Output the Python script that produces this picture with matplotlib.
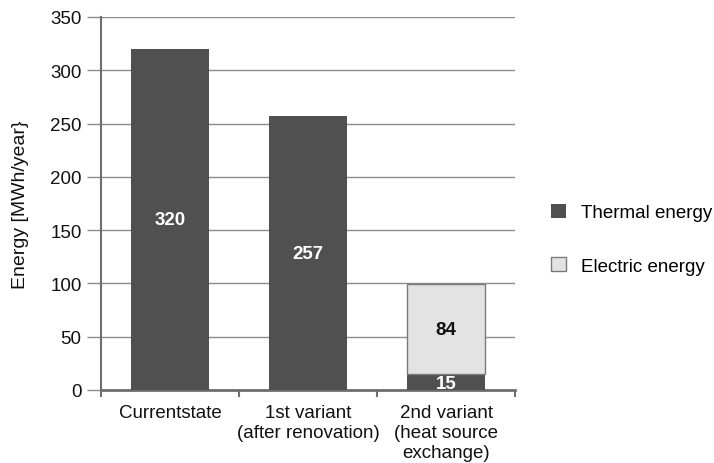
import matplotlib.pyplot as plt
import numpy as np

plt.rcParams['font.family'] = ['Liberation Sans', 'DejaVu Sans']

categories = ['Currentstate', '1st variant\n(after renovation)', '2nd variant\n(heat source\nexchange)']
thermal = [320, 257, 15]
electric = [0, 0, 84]

dark = '#505050'
light = '#e3e3e3'
axis_col = '#6e6e6e'
grid_col = '#8c8c8c'
fs = 13.5

fig = plt.figure(figsize=(7.14, 4.64), dpi=100)
ax = fig.add_axes([101 / 714, 1 - 391 / 464, 414 / 714, 373 / 464])

x = np.arange(len(categories))
w = 0.57
ax.bar(x, thermal, width=w, color=dark, zorder=3, label='Thermal energy')
ax.bar(x[2], electric[2], width=w, bottom=thermal[2], color=light,
       edgecolor='#7a7a7a', linewidth=1.0, zorder=3, label='Electric energy')

# value labels inside bars
for i in range(2):
    ax.text(x[i], thermal[i] / 2, str(thermal[i]), ha='center', va='center',
            color='white', fontsize=fs, fontweight='bold', zorder=4)
ax.text(x[2], thermal[2] / 2 - 1, str(thermal[2]), ha='center', va='center',
        color='white', fontsize=fs, fontweight='bold', zorder=4)
ax.text(x[2], thermal[2] + electric[2] / 2, str(electric[2]), ha='center', va='center',
        color='#111111', fontsize=fs, fontweight='bold', zorder=4)

ax.set_xlim(-0.5, 2.5)
ax.set_ylim(0, 350)
ax.set_yticks(range(0, 351, 50))
ax.yaxis.grid(True, color=grid_col, linewidth=1.0, zorder=0)
ax.set_axisbelow(True)

ax.set_xticks(x)
ax.set_xticklabels(categories, fontsize=fs, color='#111111', linespacing=1.25)
ax.tick_params(axis='x', length=0, pad=10)
ax.set_xticks([-0.5, 0.5, 1.5, 2.5], minor=True)
ax.tick_params(axis='x', which='minor', length=5, color=axis_col, width=1.5)
ax.tick_params(axis='y', length=10, color=grid_col, width=1.0, labelsize=fs,
               labelcolor='#111111', pad=4)

for s in ['top', 'right']:
    ax.spines[s].set_visible(False)
ax.spines['left'].set_color(axis_col)
ax.spines['left'].set_linewidth(1.5)
ax.spines['bottom'].set_color(axis_col)
ax.spines['bottom'].set_linewidth(2.0)

ax.set_ylabel('Energy [MWh/year}', fontsize=14, color='#111111', labelpad=15)

fig.legend(*ax.get_legend_handles_labels(), loc='center left',
           bbox_to_anchor=(551 / 714, 1 - 240 / 464), frameon=False,
           fontsize=fs, handlelength=0.8, handleheight=0.8, labelspacing=1.9,
           handletextpad=0.8, borderaxespad=0, borderpad=0)

fig.savefig('out.png', dpi=100)
